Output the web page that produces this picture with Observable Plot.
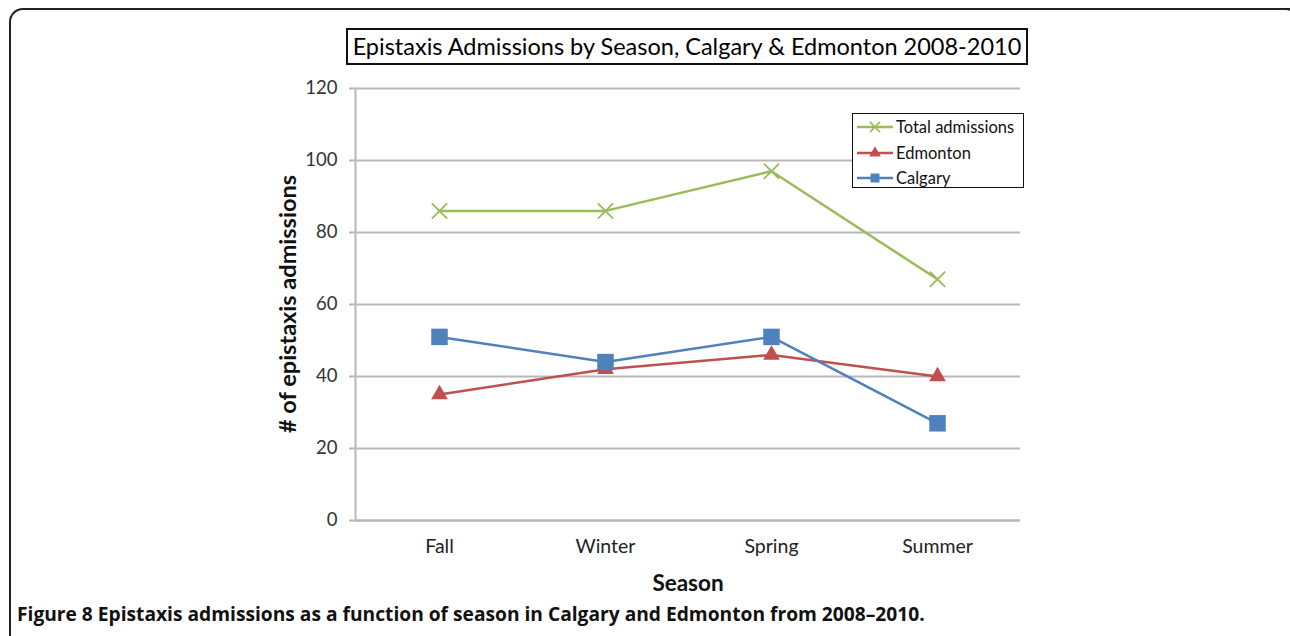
<!DOCTYPE html>
<html>
<head>
<meta charset="utf-8">
<script src="https://cdn.jsdelivr.net/npm/d3@7"></script>
<script src="https://cdn.jsdelivr.net/npm/@observablehq/plot@0.6"></script>
<style>
  html, body { margin: 0; padding: 0; background: #fff; }
  #page { position: relative; width: 1290px; height: 636px; overflow: hidden; font-family: "Open Sans", "Lato", sans-serif; }
  #frame { position: absolute; left: 9px; top: 8px; width: 1300px; height: 640px; border-left: 2px solid #222; border-top: 2px solid #222; border-top-left-radius: 14px; box-sizing: border-box; }
  #corner { position: absolute; left: 1270px; top: 8px; width: 30px; height: 30px; border-top: 2px solid #222; border-right: 2px solid #222; border-top-right-radius: 14px; box-sizing: border-box; }
  #chart { position: absolute; left: 0; top: 0; }
  #title { position: absolute; left: 346px; top: 28px; width: 682px; height: 37px; border: 2px solid #111; box-sizing: border-box; font-family: "Lato", sans-serif; font-size: 23.5px; color: #000; text-align: center; line-height: 33px; white-space: nowrap; }
  #ylabel { position: absolute; left: 287px; top: 304px; transform: translate(-50%, -50%) rotate(-90deg); font-family: "Lato", sans-serif; font-weight: bold; font-size: 23.5px; color: #111; white-space: nowrap; }
  #xlabel { position: absolute; left: 688px; top: 582px; transform: translate(-50%, -50%); font-family: "Lato", sans-serif; font-weight: bold; font-size: 22.5px; color: #111; white-space: nowrap; }
  #legend { position: absolute; left: 852px; top: 113px; width: 172px; height: 75px; border: 1.5px solid #111; box-sizing: border-box; background: #fff; font-family: "Lato", sans-serif; font-size: 16.5px; color: #111; }
  .entry { position: absolute; left: 4px; height: 20px; display: flex; align-items: center; white-space: nowrap; }
  .entry svg { margin-right: 3px; }
  #caption { position: absolute; left: 17px; top: 600px; font-family: "Liberation Sans Narrow", "Open Sans", sans-serif; font-weight: bold; font-size: 19.2px; color: #111; white-space: nowrap; }
</style>
</head>
<body>
<div id="page">
  <div id="frame"></div>
  <div id="corner"></div>
  <div id="chart"></div>
  <div id="title">Epistaxis Admissions by Season, Calgary &amp; Edmonton 2008-2010</div>
  <div id="ylabel"># of epistaxis admissions</div>
  <div id="xlabel">Season</div>
  <div id="legend"></div>
  <div id="caption">Figure 8 Epistaxis admissions as a function of season in Calgary and Edmonton from 2008–2010.</div>
</div>
<script>
const seasons = ["Fall", "Winter", "Spring", "Summer"];
const totalAdmissions = [86, 86, 97, 67];
const edmonton = [35, 42, 46, 40];
const calgary = [51, 44, 51, 27];
const yTicks = [0, 20, 40, 60, 80, 100, 120];
const seriesNames = ["Total admissions", "Edmonton", "Calgary"];
const seriesColors = ["#9BBB59", "#C0504D", "#4F81BD"];

const seriesValues = [totalAdmissions, edmonton, calgary];
const rows = [];
seriesNames.forEach((name, i) => {
  seasons.forEach((s, j) => rows.push({series: name, season: s, value: seriesValues[i][j]}));
});
const bySeries = name => rows.filter(d => d.series === name);

const chart = Plot.plot({
  width: 1290,
  height: 600,
  marginLeft: 355,
  marginRight: 270,
  marginTop: 88,
  marginBottom: 80,
  style: {background: "transparent", overflow: "visible"},
  x: {type: "point", domain: seasons, padding: 0.5},
  y: {domain: [0, 120]},
  marks: [
    Plot.gridY(yTicks, {stroke: "#b8b8b8", strokeOpacity: 1, strokeWidth: 2}),
    Plot.ruleY([0], {stroke: "#b8b8b8", strokeWidth: 2}),
    Plot.frame({anchor: "left", stroke: "#b8b8b8", strokeWidth: 2}),
    Plot.axisY({ticks: yTicks, tickSize: 6, tickPadding: 12, stroke: "#b8b8b8", strokeWidth: 2, fontSize: 18.5, fill: "#333", fontFamily: "Lato, sans-serif", label: null}),
    Plot.axisX({tickSize: 0, tickPadding: 19, fontSize: 19.5, fill: "#222", fontFamily: "Lato, sans-serif", label: null}),
    Plot.line(bySeries("Total admissions"), {x: "season", y: "value", stroke: seriesColors[0], strokeWidth: 2.5}),
    Plot.line(bySeries("Edmonton"), {x: "season", y: "value", stroke: seriesColors[1], strokeWidth: 2.5}),
    Plot.line(bySeries("Calgary"), {x: "season", y: "value", stroke: seriesColors[2], strokeWidth: 2.5}),
    Plot.dot(bySeries("Total admissions"), {x: "season", y: "value", symbol: "times", r: 7, stroke: seriesColors[0], strokeWidth: 1.8}),
    Plot.dot(bySeries("Edmonton"), {x: "season", y: "value", symbol: "triangle", r: 6.2, fill: seriesColors[1], stroke: null}),
    Plot.dot(bySeries("Calgary"), {x: "season", y: "value", symbol: "square", r: 9.3, fill: seriesColors[2], stroke: null})
  ]
});
document.getElementById("chart").appendChild(chart);

// legend
const legend = document.getElementById("legend");
const symbolFor = ["times", "triangle", "square"];
seriesNames.forEach((name, i) => {
  const e = document.createElement("div");
  e.className = "entry";
  e.style.top = (3 + i * 25.5) + "px";
  const svg = d3.create("svg").attr("width", 36).attr("height", 16);
  svg.append("line").attr("x1", 0).attr("x2", 36).attr("y1", 8).attr("y2", 8)
    .attr("stroke", seriesColors[i]).attr("stroke-width", 2.5);
  const sym = {times: d3.symbolTimes, triangle: d3.symbolTriangle, square: d3.symbolSquare}[symbolFor[i]];
  const path = svg.append("path").attr("transform", "translate(18,8)")
    .attr("d", d3.symbol(sym, i === 0 ? 70 : i === 1 ? 60 : 80)());
  if (i === 0) path.attr("fill", "none").attr("stroke", seriesColors[i]).attr("stroke-width", 1.5);
  else path.attr("fill", seriesColors[i]);
  e.appendChild(svg.node());
  const t = document.createElement("span");
  t.textContent = name;
  e.appendChild(t);
  legend.appendChild(e);
});
</script>
</body>
</html>
